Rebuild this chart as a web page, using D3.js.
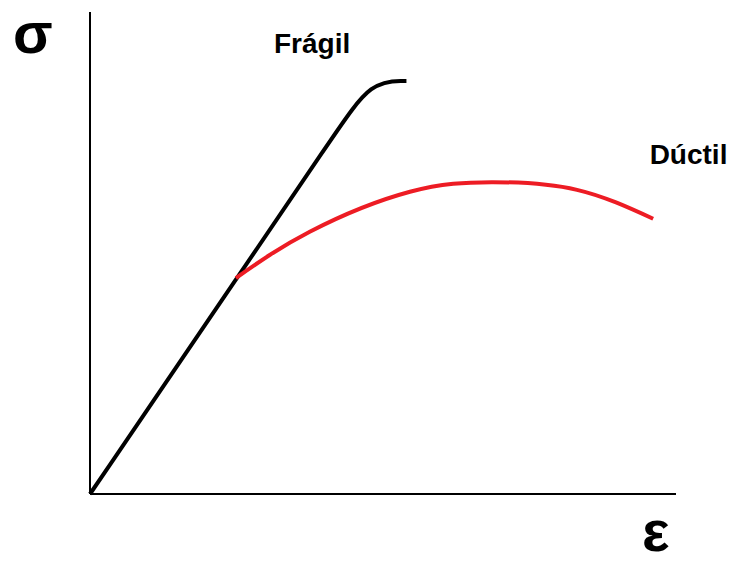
<!DOCTYPE html>
<html>
<head>
<meta charset="utf-8">
<script src="https://cdn.jsdelivr.net/npm/d3@7"></script>
<style>
  body { margin: 0; background: #fff; }
  text { font-family: "Liberation Sans", Arial, sans-serif; font-weight: bold; }
</style>
</head>
<body>
<div id="chart"></div>
<script>
// strain (x) and stress (y) in arbitrary units
// fragile: straight elastic part, then a short rounded knee
let fragilX = [0, 20, 42, 47.95, 54];
let fragilY = [0, 35.7, 75.1, 85.7, 85.7];

let ductilX = [24.9, 37.5, 54.6, 68.8, 83.1, 96.1];
let ductilY = [44.8, 54.4, 62.7, 64.7, 63.1, 57.1];

let seriesNames = ["Frágil", "Dúctil"];
let axisLabels = ["σ", "ε"];

let width = 732, height = 563;
let margin = {top: 12, right: 56, bottom: 69, left: 90};

let svg = d3.select("#chart")
            .append("svg")
                .attr("width", width)
                .attr("height", height);

let x = d3.scaleLinear()
            .domain([0, 100])
            .range([margin.left, width - margin.right]);

let y = d3.scaleLinear()
            .domain([0, 100])
            .range([height - margin.bottom, margin.top]);

// axes: plain lines, no ticks
svg.append("line")
    .attr("x1", x(0)).attr("x2", x(0))
    .attr("y1", y(0)).attr("y2", y(100))
    .attr("stroke", "#000").attr("stroke-width", 2);

svg.append("line")
    .attr("x1", x(0)).attr("x2", x(100))
    .attr("y1", y(0)).attr("y2", y(0))
    .attr("stroke", "#000").attr("stroke-width", 2);

let fragil = fragilX.map((d, i) => ({x: d, y: fragilY[i]}));
let ductil = ductilX.map((d, i) => ({x: d, y: ductilY[i]}));

let line = d3.line()
            .x(d => x(d.x))
            .y(d => y(d.y));

svg.append("path")
    .datum(fragil)
    .attr("d", line.curve(d3.curveBasis))
    .attr("fill", "none")
    .attr("stroke", "#000")
    .attr("stroke-width", 4);

svg.append("path")
    .datum(ductil)
    .attr("d", line.curve(d3.curveNatural))
    .attr("fill", "none")
    .attr("stroke", "#ed1c24")
    .attr("stroke-width", 4);

// labels
svg.append("text")
    .attr("x", x(31.4)).attr("y", y(91.4))
    .style("font-size", "28px")
    .text(seriesNames[0]);

svg.append("text")
    .attr("x", x(95.5)).attr("y", y(68.5))
    .style("font-size", "28px")
    .text(seriesNames[1]);

svg.append("text")
    .attr("x", 13).attr("y", 53)
    .style("font-size", "58px")
    .text(axisLabels[0]);

svg.append("text")
    .attr("x", 642).attr("y", 551)
    .style("font-size", "58px")
    .text(axisLabels[1]);
</script>
</body>
</html>
